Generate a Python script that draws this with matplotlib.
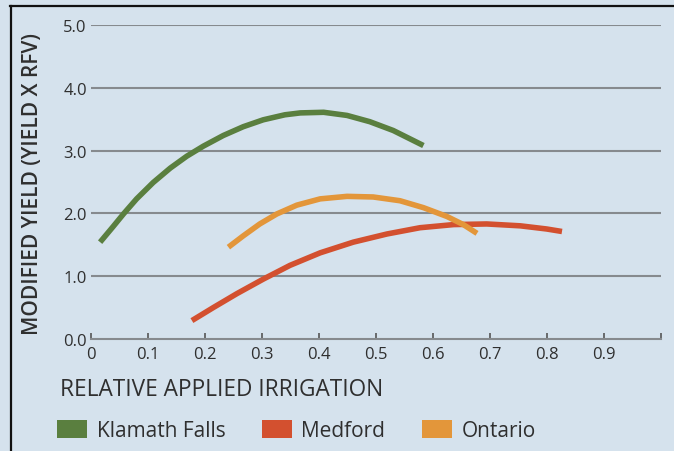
import matplotlib.pyplot as plt
from matplotlib.patches import Patch
from matplotlib.lines import Line2D
from matplotlib import font_manager

# values
klamath_x = [0.016, 0.039, 0.057, 0.080, 0.109, 0.139, 0.168, 0.197, 0.232, 0.267,
             0.302, 0.340, 0.367, 0.408, 0.449, 0.489, 0.530, 0.583]
klamath_y = [1.54, 1.79, 1.99, 2.23, 2.49, 2.72, 2.91, 3.07, 3.24, 3.38,
             3.49, 3.57, 3.60, 3.61, 3.56, 3.46, 3.32, 3.08]

medford_x = [0.177, 0.215, 0.256, 0.302, 0.349, 0.402, 0.460, 0.519, 0.577, 0.636,
             0.694, 0.753, 0.799, 0.826]
medford_y = [0.29, 0.50, 0.72, 0.95, 1.17, 1.37, 1.54, 1.67, 1.77, 1.82,
             1.83, 1.80, 1.75, 1.71]

ontario_x = [0.241, 0.267, 0.296, 0.326, 0.361, 0.402, 0.449, 0.495, 0.542, 0.583,
             0.624, 0.653, 0.677]
ontario_y = [1.46, 1.64, 1.83, 1.99, 2.13, 2.23, 2.27, 2.26, 2.20, 2.09,
             1.95, 1.82, 1.68]

x_ticks = [0, 0.1, 0.2, 0.3, 0.4, 0.5, 0.6, 0.7, 0.8, 0.9]
x_tick_labels = ['0', '0.1', '0.2', '0.3', '0.4', '0.5', '0.6', '0.7', '0.8', '0.9']
y_ticks = [0, 1, 2, 3, 4, 5]
y_tick_labels = ['0.0', '1.0', '2.0', '3.0', '4.0', '5.0']

names = ['Klamath Falls', 'Medford', 'Ontario']
colors = ['#5a7f3f', '#d3502f', '#e3963a']

bg = '#d5e2ed'
grid = '#868a8e'
txt = '#2f2f2f'

installed = {f.name for f in font_manager.fontManager.ttflist}
fam = 'Liberation Sans Narrow' if 'Liberation Sans Narrow' in installed else 'Open Sans'
plt.rcParams['font.family'] = [fam, 'DejaVu Sans']

fig = plt.figure(figsize=(6.74, 4.52), dpi=100, facecolor=bg)
ax = fig.add_axes([0.135, 0.2483, 0.846, 0.694])
ax.set_facecolor(bg)

for gy in y_ticks[1:]:
    ax.axhline(gy, color=grid, lw=1.5, zorder=1)

ax.plot(klamath_x, klamath_y, color=colors[0], lw=4, solid_capstyle='butt',
        solid_joinstyle='round', zorder=3)
ax.plot(medford_x, medford_y, color=colors[1], lw=4, solid_capstyle='butt',
        solid_joinstyle='round', zorder=3)
ax.plot(ontario_x, ontario_y, color=colors[2], lw=4, solid_capstyle='butt',
        solid_joinstyle='round', zorder=3)

ax.set_xlim(0, 1.0)
ax.set_ylim(0, 5.0)
for s in ['top', 'right', 'left']:
    ax.spines[s].set_visible(False)
ax.spines['bottom'].set_color(grid)
ax.spines['bottom'].set_linewidth(1.5)

ax.set_xticks(x_ticks + [1.0])
ax.set_xticklabels(x_tick_labels + [''])
ax.set_yticks(y_ticks)
ax.set_yticklabels(y_tick_labels)
ax.tick_params(axis='x', direction='in', length=4, width=1.2, color='#555555',
               labelsize=12, labelcolor=txt, pad=5)
ax.tick_params(axis='y', length=0, labelsize=12, labelcolor=txt, pad=3)

fig.text(60 / 674, 1 - 396 / 452, 'RELATIVE APPLIED IRRIGATION', fontsize=16.3,
         color=txt, va='baseline', ha='left')
fig.text(33 / 674, 0.594, 'MODIFIED YIELD (YIELD X RFV)', fontsize=15,
         fontweight='semibold', color=txt, rotation=90, va='center', ha='center')

handles = [Patch(facecolor=c, edgecolor='none') for c in colors]
fig.legend(handles, names, loc='center left', bbox_to_anchor=(57 / 674, 0.046),
           ncol=3, frameon=False, fontsize=15, handlelength=1.45, handleheight=0.95,
           handletextpad=0.45, columnspacing=1.75, labelcolor=txt, borderpad=0,
           borderaxespad=0)

# dark frame along the top and left edges
fig.add_artist(Line2D([10 / 674, 1], [1 - 7 / 452, 1 - 7 / 452], color='#111111', lw=1.6,
                      transform=fig.transFigure))
fig.add_artist(Line2D([10.5 / 674, 10.5 / 674], [0, 1 - 7 / 452], color='#111111', lw=1.6,
                      transform=fig.transFigure))

fig.savefig('out.png', dpi=100, facecolor=bg)
